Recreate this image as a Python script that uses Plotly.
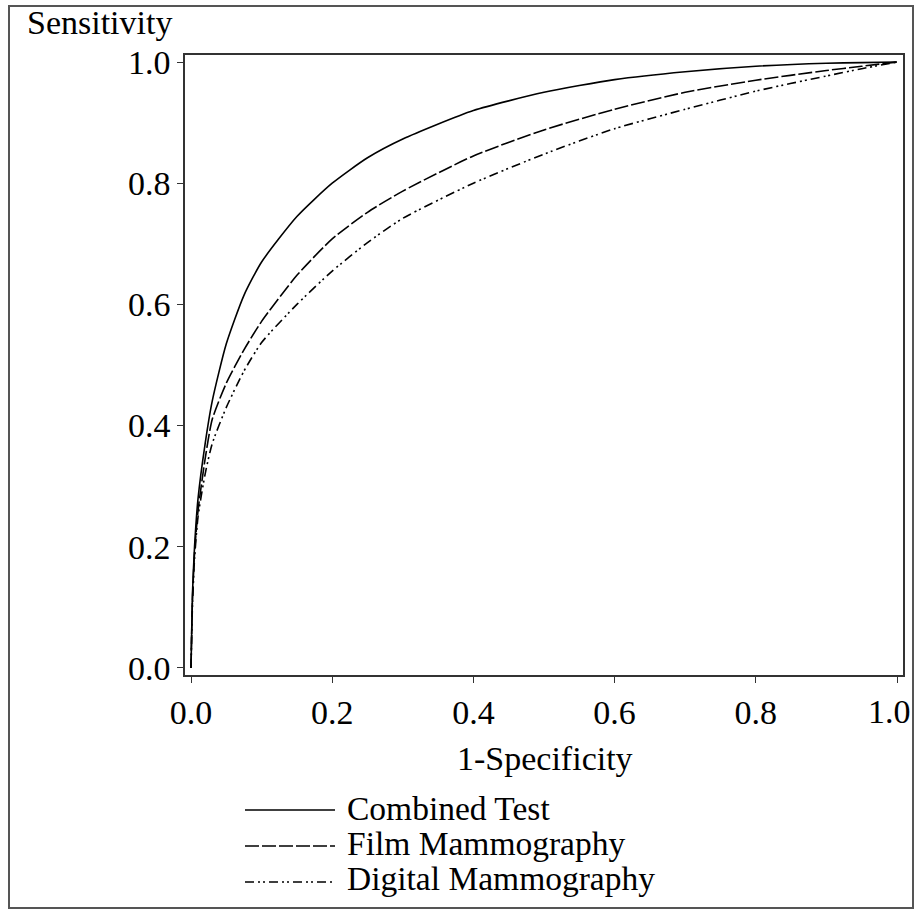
import plotly.graph_objects as go

# ---- data ----
fpr = [0.0, 0.002, 0.005, 0.01, 0.02, 0.03, 0.05, 0.075, 0.1, 0.15, 0.2,
       0.25, 0.3, 0.4, 0.5, 0.6, 0.7, 0.8, 0.9, 0.95, 1.0]
combined = [0.0, 0.12, 0.20, 0.28, 0.37, 0.44, 0.535, 0.615, 0.67, 0.745, 0.80,
            0.842, 0.873, 0.920, 0.950, 0.971, 0.984, 0.993, 0.998, 0.999, 1.0]
film = [0.0, 0.11, 0.19, 0.26, 0.345, 0.41, 0.47, 0.525, 0.572, 0.648, 0.708,
        0.752, 0.787, 0.845, 0.888, 0.922, 0.950, 0.970, 0.986, 0.993, 1.0]
digital = [0.0, 0.10, 0.18, 0.25, 0.32, 0.37, 0.43, 0.49, 0.537, 0.60, 0.655,
           0.702, 0.742, 0.800, 0.848, 0.890, 0.922, 0.952, 0.977, 0.989, 1.0]

series_names = ["Combined Test", "Film Mammography", "Digital Mammography"]
series_vals = [combined, film, digital]
dashes = ["solid", "14px,3px", "9px,4px,2px,3px,2px,4px"]

tick_vals = [0.0, 0.2, 0.4, 0.6, 0.8, 1.0]
tick_text = ["0.0", "0.2", "0.4", "0.6", "0.8", "1.0"]

FONT = "Liberation Serif, Times New Roman, serif"
FS = 34
LFS = 33.5

fig = go.Figure()
for name, vals, d in zip(series_names, series_vals, dashes):
    fig.add_trace(go.Scatter(x=fpr, y=vals, mode="lines", name=name,
                             line=dict(color="black", width=1.6, dash=d, shape="spline", smoothing=0.6),
                             showlegend=False))

# plot area in px: x 185..903, y 55..675 (page 918x911)
L, R, T, B = 185, 903, 55, 675
W, H = 918, 911

def px(xp):
    return (xp - L) / (R - L)

def py(yp):
    return (B - yp) / (B - T)

shapes = []
# outer border
shapes.append(dict(type="rect", xref="paper", yref="paper",
                   x0=px(9), x1=px(913), y0=py(908), y1=py(6),
                   line=dict(color="#555555", width=2), layer="below"))
annotations = []
# manual legend
leg_y_line = [810, 846, 882]
leg_y_text = [808, 843, 878]
for name, d, yl, yt in zip(series_names, dashes, leg_y_line, leg_y_text):
    shapes.append(dict(type="line", xref="paper", yref="paper",
                       x0=px(245), x1=px(335), y0=py(yl), y1=py(yl),
                       line=dict(color="black", width=1.6, dash=d)))
    annotations.append(dict(text=name, xref="paper", yref="paper",
                            x=px(345), y=py(yt), xanchor="left", yanchor="middle",
                            showarrow=False, font=dict(family=FONT, size=LFS, color="black")))

annotations.append(dict(text="Sensitivity", xref="paper", yref="paper",
                        x=px(25), y=py(22), xanchor="left", yanchor="middle",
                        showarrow=False, font=dict(family=FONT, size=FS, color="black")))
annotations.append(dict(text="1-Specificity", xref="paper", yref="paper",
                        x=px(545), y=py(758), xanchor="center", yanchor="middle",
                        showarrow=False, font=dict(family=FONT, size=FS, color="black")))
# last x tick label sits slightly left of its tick (as in the reference) so it stays inside the page
annotations.append(dict(text=tick_text[-1], xref="x", yref="paper",
                        x=tick_vals[-1], y=py(711), xanchor="center", yanchor="middle",
                        xshift=-8, showarrow=False,
                        font=dict(family=FONT, size=FS, color="black")))

fig.update_layout(
    width=W, height=H, autosize=False,
    margin=dict(l=L, r=W - R, t=T, b=H - B, pad=0, autoexpand=False),
    paper_bgcolor="white", plot_bgcolor="white",
    font=dict(family=FONT, size=FS, color="black"),
    shapes=shapes, annotations=annotations,
)
x_tick_text = tick_text[:-1] + [""]
fig.update_xaxes(range=[-0.0085, 1.0085], tickvals=tick_vals, ticktext=x_tick_text,
                 showgrid=False, zeroline=False, showline=True, mirror=True,
                 linecolor="#333333", linewidth=1.5, ticks="outside", ticklen=6,
                 tickcolor="#333333", tickwidth=1.2, ticklabeloverflow="allow",
                 automargin=False,
                 tickfont=dict(family=FONT, size=FS, color="black"))
fig.update_yaxes(range=[-0.0116, 1.0116], tickvals=tick_vals, ticktext=tick_text,
                 showgrid=False, zeroline=False, showline=True, mirror=True,
                 linecolor="#333333", linewidth=1.5, ticks="outside", ticklen=6,
                 tickcolor="#333333", tickwidth=1.2, ticklabeloverflow="allow",
                 automargin=False,
                 tickfont=dict(family=FONT, size=FS, color="black"))

fig.write_html("out.html", config={"displayModeBar": False},
               post_script="document.body.style.margin='0';document.body.style.overflow='hidden';")
